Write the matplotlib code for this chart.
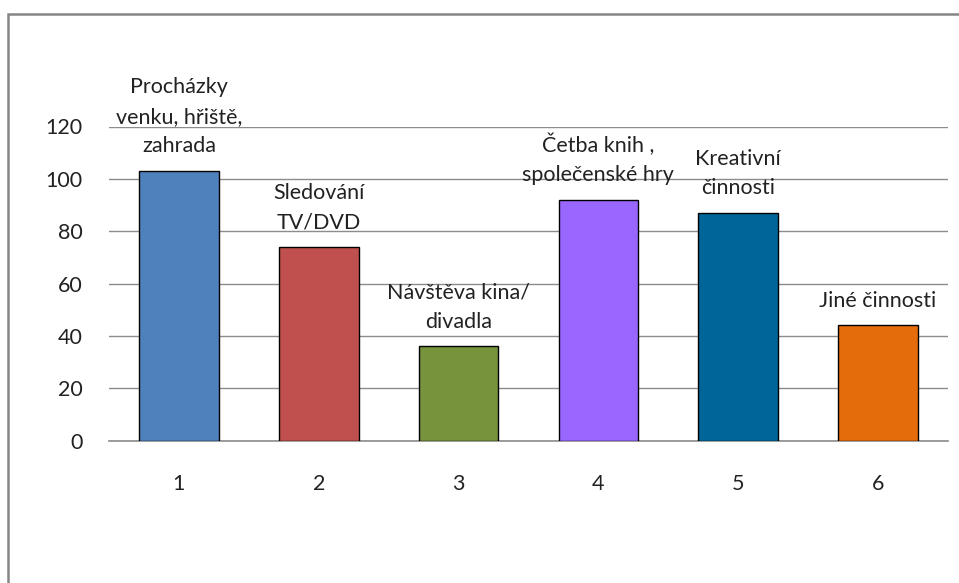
import matplotlib.pyplot as plt
from matplotlib.patches import Rectangle

plt.rcParams['font.family'] = ['Lato', 'DejaVu Sans']

# data
categories = ['1', '2', '3', '4', '5', '6']
values = [103, 74, 36, 92, 87, 44]
labels = ['Procházky\nvenku, hřiště,\nzahrada', 'Sledování\nTV/DVD',
          'Návštěva kina/\ndivadla', 'Četba knih ,\nspolečenské hry',
          'Kreativní\nčinnosti', 'Jiné činnosti']
colors = ['#4F81BD', '#C0504D', '#77933C', '#9966FF', '#006699', '#E46C0A']

W, H = 959, 583
fig = plt.figure(figsize=(W / 100, H / 100), dpi=100)

# plot area in pixels
x0, x1 = 109, 948
y_top, y_bot = 126.5, 440.7
ax = fig.add_axes([x0 / W, 1 - y_bot / H, (x1 - x0) / W, (y_bot - y_top) / H])

x = range(len(categories))
ax.bar(x, values, width=0.57, color=colors, edgecolor='black', linewidth=1, zorder=3)

for i, (v, lab) in enumerate(zip(values, labels)):
    ax.annotate(lab, (i, v), xytext=(0, 10.5), textcoords='offset points',
                ha='center', va='bottom', fontsize=15.5, color='#222222',
                linespacing=1.6)

ax.set_xlim(-0.5, len(categories) - 0.5)
ax.set_ylim(0, 120)
ax.set_yticks(range(0, 121, 20))
ax.set_xticks(list(x))
ax.set_xticklabels(categories)
ax.yaxis.grid(True, color='#8c8c8c', linewidth=1)
ax.set_axisbelow(True)
for s in ['top', 'right', 'left']:
    ax.spines[s].set_visible(False)
ax.spines['bottom'].set_color('#8c8c8c')
ax.spines['bottom'].set_linewidth(1.2)
ax.tick_params(axis='both', length=0, labelsize=15.5, colors='#222222')
ax.tick_params(axis='y', pad=19)
ax.tick_params(axis='x', pad=24)

# outer chart frame (cut off at right and bottom)
fig.patches.append(Rectangle((8 / W, -0.1), 1.1, 1.1 - 14 / H,
                             transform=fig.transFigure, fill=False,
                             edgecolor='#868686', linewidth=1.8))

fig.savefig('out.png', dpi=100)
